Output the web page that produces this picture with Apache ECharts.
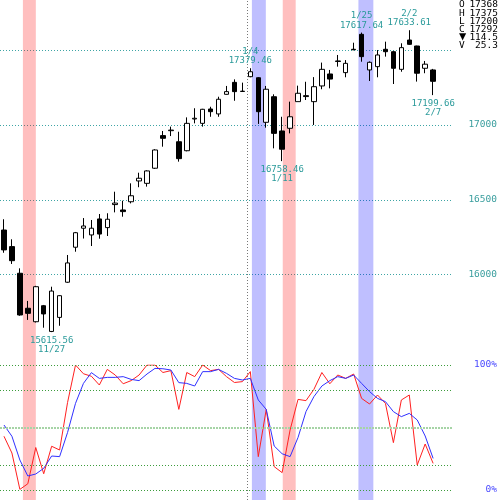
<!DOCTYPE html>
<html><head><meta charset="utf-8">
<script src="https://cdn.jsdelivr.net/npm/echarts@6/dist/echarts.min.js"></script>
<style>html,body{margin:0;padding:0;background:#fff}#c{width:500px;height:500px}</style>
</head><body><div id="c"></div>
<script>
const dates = [
 '2016-11-17','2016-11-18','2016-11-21','2016-11-22','2016-11-24','2016-11-25','2016-11-27',
 '2016-11-28','2016-11-29','2016-11-30','2016-12-01','2016-12-02','2016-12-05','2016-12-06',
 '2016-12-07','2016-12-08','2016-12-09','2016-12-12','2016-12-13','2016-12-14','2016-12-15',
 '2016-12-16','2016-12-19','2016-12-20','2016-12-21','2016-12-22','2016-12-26','2016-12-27',
 '2016-12-28','2016-12-29','2016-12-30',
 '2017-01-04','2017-01-05','2017-01-06','2017-01-10','2017-01-11','2017-01-12','2017-01-13',
 '2017-01-16','2017-01-17','2017-01-18','2017-01-19','2017-01-20','2017-01-23','2017-01-24',
 '2017-01-25','2017-01-26','2017-01-27','2017-01-30','2017-01-31','2017-02-01','2017-02-02',
 '2017-02-03','2017-02-06','2017-02-07'];
const open = [16298,16187,16009,15775,15685,15792,15620,15714,15949,16183,
 16310,16265,16372,16314,16468,16432,16487,16626,16610,16711,
 16929,16962,16888,16828,17040,17011,17107,17074,17205,17285,
 17226,17323,17316,17018,17189,16960,16978,17156,17196,17156,
 17261,17341,17428,17350,17506,17606,17368,17390,17506,17490,
 17372,17568,17528,17379,17368];
const high = [16370,16236,16042,15824,15925,15797,15919,15862,16131,16285,
 16378,16365,16405,16410,16554,16494,16610,16681,16697,16838,
 16960,16989,16955,17051,17112,17108,17122,17189,17261,17305,
 17283,17379.46,17320,17261,17205,17055,17156,17263,17289,17320,
 17417,17368,17468,17434,17550,17617.64,17425,17501,17557,17495,
 17546,17633.61,17530,17428,17375];
const low = [16146,16071,15725,15697,15680,15645,15615.56,15658,15945,16153,
 16241,16191,16240,16258,16416,16387,16476,16584,16588,16706,
 16855,16926,16755,16824,17011,16989,17055,17055,17203,17162,
 17224,17319,17007,16982,16844,16758.46,16944,17156,17167,17000,
 17239,17245,17390,17319,17500,17423,17294,17319,17457,17274,
 17356,17535,17290,17346,17199.66];
const close = [16165,16093,15730,15741,15919,15737,15890,15859,16078,16280,
 16325,16310,16271,16370,16478,16421,16527,16644,16693,16833,
 16911,16966,16775,17011,17045,17105,17089,17172,17223,17223,
 17224,17356,17089,17239,16944,16838,17055,17212,17190,17256,
 17372,17307,17425,17412,17503,17457,17419,17468,17490,17379,
 17517,17539,17346,17406.5,17292];
const volume = 25.3;
const stochK = [43,29.6,0.5,5,34,13,35,32,70,100,
 93,91,84,96.5,92,85,87.5,92,100,100,
 94,95.5,64.5,94,90.7,100,95.5,96.5,90.7,86,
 86.7,94.7,26.7,64.5,18.7,13.9,48,72.5,71.5,80.5,
 94,85,92,89.3,92.8,73.3,68.8,76,69.3,37.9,
 72,76,20,36.8,21.3];
const stochD = [52,43,24,11.2,12.8,17.3,27.2,26.7,46,69.3,
 85.3,93.9,89.3,90.1,90.1,90.7,88.5,87.5,92.8,97.3,
 97,96,85.9,85.3,83.2,94.7,94.7,96.5,93.3,89.3,
 88,89.3,72,64.5,35.2,29,26.7,42,62.7,74.7,
 83.2,87.5,90.7,89.3,92,85.3,78.7,73.3,70.7,62.7,
 58.7,61.3,56,43.2,25.3];
const priceLabels = [16000, 16500, 17000];
const stochLevels = [0, 20, 80, 100];
const stochMid = 50;
const peakIdx = [31, 45, 51];
const troughIdx = [6, 35, 54];
const signalBands = [
 {from: 2.375, to: 4.0, kind: 'sell'},
 {from: 31.125, to: 32.875, kind: 'buy'},
 {from: 35.0, to: 36.625, kind: 'sell'},
 {from: 44.5, to: 46.375, kind: 'buy'}
];

const MONO = '"DejaVu Sans Mono", monospace';
const md = s => { const p = s.split('-'); return (+p[1]) + '/' + (+p[2]); };
const candleData = open.map((o, i) => [o, close[i], low[i], high[i]]);
let yearIdx = dates.findIndex((d, i) => i > 0 && d.slice(0, 4) !== dates[i - 1].slice(0, 4));

const markLabel = {color: '#2a9a9a', fontFamily: MONO, fontSize: 9, lineHeight: 9.5, align: 'center'};
const marks = [];
peakIdx.forEach(i => marks.push({coord: [dates[i], high[i]],
  label: Object.assign({}, markLabel, {position: 'top', distance: 2, formatter: md(dates[i]) + '\n' + high[i].toFixed(2)})}));
troughIdx.forEach(i => marks.push({coord: [dates[i], low[i]],
  label: Object.assign({}, markLabel, {position: 'bottom', distance: 3, formatter: low[i].toFixed(2) + '\n' + md(dates[i])})}));

const last = close.length - 1;
const chg = close[last] - close[last - 1];
const rows = [
 ['O', Math.round(open[last]).toString()],
 ['H', Math.round(high[last]).toString()],
 ['L', Math.round(low[last]).toString()],
 ['C', Math.round(close[last]).toString()],
 [chg < 0 ? '\u25BC' : '\u25B2', Math.abs(chg).toFixed(1)],
 ['V', volume.toFixed(1)]
];
const graphic = [];
rows.forEach((r, i) => {
  const y = 5 + i * 8.2;
  graphic.push({type: 'text', left: 459, top: y - (i === 4 ? 6.5 : 5), style: {text: r[0], fill: '#000', font: (i === 4 ? '12px ' : '9.5px ') + MONO}});
  graphic.push({type: 'text', right: 2, top: y - 5, style: {text: r[1], fill: '#000', font: '9.5px ' + MONO}});
});

const chart = echarts.init(document.getElementById('c'));
chart.setOption({
  animation: false,
  backgroundColor: '#fff',
  grid: [
    {left: -2, width: 456, top: 0, height: 349.4},
    {left: -2, width: 456, top: 365, height: 125},
    {left: -2, width: 456, top: 0, height: 500}
  ],
  xAxis: [
    {type: 'category', gridIndex: 0, data: dates, max: 56, boundaryGap: true, show: false},
    {type: 'category', gridIndex: 1, data: dates, max: 56, boundaryGap: true, show: false},
    {type: 'value', gridIndex: 2, min: -0.5, max: 56.5, show: false}
  ],
  yAxis: [
    {type: 'value', gridIndex: 0, position: 'right', min: 15500, max: 17835.5, interval: 500,
     axisLine: {show: false}, axisTick: {show: false},
     splitLine: {show: true, showMinLine: false, showMaxLine: false, lineStyle: {color: '#3ea5a5', type: [1, 2], width: 1}},
     axisLabel: {formatter: v => priceLabels.includes(v) ? String(v) : '', align: 'right', margin: 44,
                 color: '#3a9e9e', fontFamily: MONO, fontSize: 9.5}},
    {type: 'value', gridIndex: 1, position: 'right', min: 0, max: 100, interval: 100,
     axisLine: {show: false}, axisTick: {show: false}, splitLine: {show: false},
     axisLabel: {formatter: '{value}%', align: 'right', margin: 44, color: '#4a4aff', fontFamily: MONO, fontSize: 9.5}},
    {type: 'value', gridIndex: 2, min: 0, max: 1, show: false}
  ],
  series: [
    {type: 'candlestick', xAxisIndex: 0, yAxisIndex: 0, data: candleData, barWidth: 5, z: 3,
     itemStyle: {color: '#fff', color0: '#000', borderColor: '#000', borderColor0: '#000', borderWidth: 1},
     markPoint: {symbol: 'circle', symbolSize: 1, itemStyle: {color: 'rgba(0,0,0,0)'}, silent: true, data: marks}},
    {type: 'line', name: '%K', xAxisIndex: 1, yAxisIndex: 1, data: stochK, symbol: 'none', z: 3,
     lineStyle: {color: '#ff2020', width: 1}, itemStyle: {color: '#ff2020'},
     markLine: {silent: true, symbol: ['none', 'none'], label: {show: false},
       data: stochLevels.map(v => ({yAxis: v, lineStyle: {color: '#3c9c3c', type: [1, 2], width: 1}}))
         .concat([{yAxis: stochMid, lineStyle: {color: '#a6d4a6', type: [2, 1], width: 2}}])}},
    {type: 'line', name: '%D', xAxisIndex: 1, yAxisIndex: 1, data: stochD, symbol: 'none', z: 3,
     lineStyle: {color: '#3030ff', width: 1}, itemStyle: {color: '#3030ff'}},
    {type: 'line', xAxisIndex: 2, yAxisIndex: 2, data: [], z: 10, silent: true,
     markArea: {silent: true, data: signalBands.map(b => [
        {xAxis: b.from, itemStyle: {color: b.kind === 'sell' ? 'rgba(255,0,0,0.25)' : 'rgba(0,0,255,0.25)'}},
        {xAxis: b.to}])},
     markLine: {silent: true, symbol: ['none', 'none'], label: {show: false},
       lineStyle: {color: '#777', type: [1, 2], width: 1},
       data: [{xAxis: yearIdx - 0.5}]}}
  ],
  graphic: graphic
});
</script></body></html>
